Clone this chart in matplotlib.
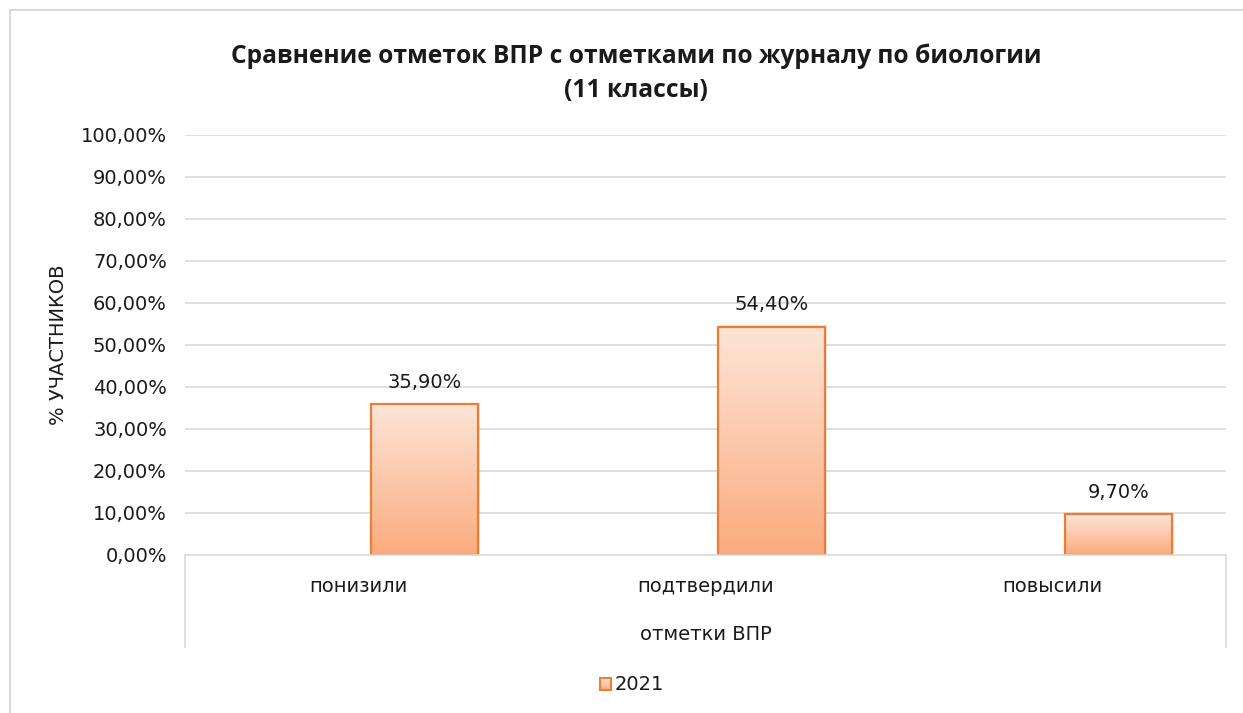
import numpy as np
import matplotlib
matplotlib.use('Agg')
import matplotlib.pyplot as plt
from matplotlib.patches import Rectangle
from matplotlib.lines import Line2D
from matplotlib.colors import LinearSegmentedColormap

plt.rcParams['font.family'] = ['DejaVu Sans']

# данные
categories = ['понизили', 'подтвердили', 'повысили']
values = [35.9, 54.4, 9.7]
labels = ['35,90%', '54,40%', '9,70%']
series_name = '2021'
title = 'Сравнение отметок ВПР с отметками по журналу по биологии\n(11 классы)'
yticks = list(range(0, 101, 10))

W, H = 1243, 713
fig = plt.figure(figsize=(W / 100, H / 100), dpi=100)

# пиксели -> доли фигуры
def fx(px):
    return px / W

def fy(py):
    return 1 - py / H

left, right, top, bottom = 185, 1226, 135, 555
ax = fig.add_axes([fx(left), fy(bottom), fx(right) - fx(left), fy(top) - fy(bottom)])

grid_c = '#d9d9d9'
edge_c = '#ed7d31'
txt_c = '#1a1a1a'
fs = 14
cmap = LinearSegmentedColormap.from_list('peach', ['#fbab7e', '#fde5d8'])
grad = np.linspace(0, 1, 256).reshape(-1, 1)

ax.set_xlim(0, 3)
ax.set_ylim(0, 100)
for y in yticks[1:]:
    ax.axhline(y, color=grid_c, lw=1.2, zorder=0)

offset, width = 0.19, 0.308
for i, v in enumerate(values):
    x0 = i + 0.5 + offset - width / 2
    # тень
    sh = Rectangle((x0 + 0.006, 0), width, v + 0.3, facecolor='#000000', alpha=0.08,
                   edgecolor='none', zorder=1)
    ax.add_patch(sh)
    im = ax.imshow(grad, extent=(x0, x0 + width, 0, v), origin='lower', cmap=cmap,
                   aspect='auto', zorder=2)
    rect = Rectangle((x0, 0), width, v, facecolor='none', edgecolor=edge_c, lw=1.6, zorder=3)
    ax.add_patch(rect)
    im.set_clip_path(rect)
    ax.text(i + 0.5 + offset, v + 3.0, labels[i], ha='center', va='bottom', fontsize=fs,
            color=txt_c)

ax.set_xlim(0, 3)
ax.set_ylim(0, 100)
ax.set_yticks(yticks)
ax.set_yticklabels([f'{t},00%' for t in yticks], fontsize=fs, color=txt_c)
ax.tick_params(axis='y', length=0, pad=13)
ax.set_xticks([])
for s in ax.spines.values():
    s.set_visible(False)

# нижняя рамка категорий
box_bottom = 647
fig.add_artist(Line2D([fx(left), fx(right)], [fy(bottom), fy(bottom)], color=grid_c, lw=1.2))
for xp in (left, right):
    fig.add_artist(Line2D([fx(xp), fx(xp)], [fy(bottom), fy(box_bottom)], color=grid_c, lw=1.2))

catw = (right - left) / 3
for i, c in enumerate(categories):
    fig.text(fx(left + catw * (i + 0.5)), fy(586), c, ha='center', va='center', fontsize=fs,
             color=txt_c)
fig.text(fx((left + right) / 2), fy(634), 'отметки ВПР', ha='center', va='center', fontsize=fs,
         color=txt_c)

fig.text(fx(58), fy(345), '% УЧАСТНИКОВ', rotation=90, ha='center', va='center', fontsize=fs,
         color=txt_c)

fig.text(fx(636), fy(73), title, ha='center', va='center', fontsize=17.7, fontweight='bold',
         color=txt_c, linespacing=1.45, family=['Open Sans', 'DejaVu Sans'])

# легенда
lg = fig.add_axes([fx(600), fy(690), fx(11), fy(678) - fy(690)])
lg.imshow(grad, extent=(0, 1, 0, 1), origin='lower', cmap=cmap, aspect='auto')
lg.set_xticks([])
lg.set_yticks([])
for s in lg.spines.values():
    s.set_color(edge_c)
    s.set_linewidth(1.4)
fig.text(fx(615), fy(684), series_name, ha='left', va='center', fontsize=fs, color=txt_c)

# внешняя рамка
fig.add_artist(Line2D([fx(10), 1], [fy(10), fy(10)], color=grid_c, lw=1.5))
fig.add_artist(Line2D([fx(10), fx(10)], [fy(10), 0], color=grid_c, lw=1.5))

fig.savefig('out.png', dpi=100)
